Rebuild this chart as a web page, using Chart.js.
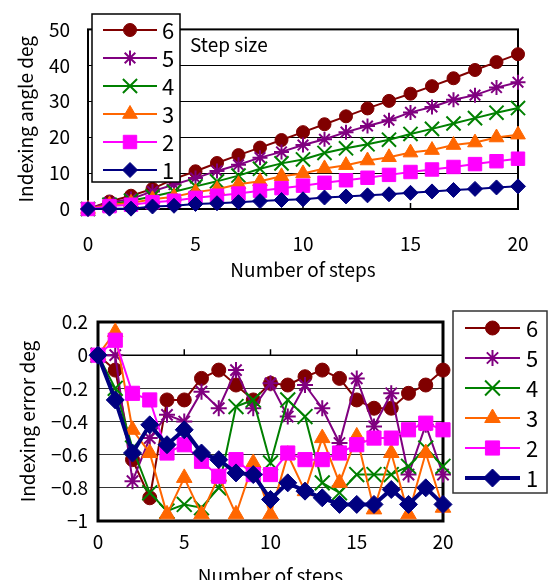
<!DOCTYPE html>
<html>
<head>
<meta charset="utf-8">
<script src="https://cdn.jsdelivr.net/npm/chart.js@4.4.0/dist/chart.umd.min.js"></script>
<style>
  html, body { margin: 0; padding: 0; background: #fff; overflow: hidden; }
  #angleBox { position: absolute; left: 0; top: 0; }
  #errorBox { position: absolute; left: 0; top: 290px; }
</style>
</head>
<body>
<div id="angleBox"><canvas id="angleChart" width="553" height="290"></canvas></div>
<div id="errorBox"><canvas id="errorChart" width="553" height="300"></canvas></div>
<script>
// data
const steps = [0,1,2,3,4,5,6,7,8,9,10,11,12,13,14,15,16,17,18,19,20];
const stepSizes = ['1','2','3','4','5','6'];
const xTicks = [0, 5, 10, 15, 20];
const angleTicks = [0, 10, 20, 30, 40, 50];
const errorTicks = [0.2, 0, -0.2, -0.4, -0.6, -0.8, -1];

// Indexing angle (deg)
const angle1 = [0, 0.1, 0.1, 0.7, 0.9, 1.4, 1.6, 1.9, 2.2, 2.5, 2.7, 3.2, 3.5, 3.8, 4.1, 4.5, 4.9, 5.3, 5.6, 6.0, 6.3];
const angle2 = [0, 0.8, 1.2, 1.9, 2.3, 3.1, 3.7, 4.3, 5.1, 5.8, 6.5, 7.3, 8.0, 8.7, 9.5, 10.3, 11.0, 11.7, 12.5, 13.3, 14.0];
const angle3 = [0, 1.2, 1.7, 2.7, 3.4, 4.7, 5.5, 6.9, 7.7, 9.1, 9.9, 11.3, 12.2, 13.5, 14.4, 15.7, 16.4, 17.8, 18.5, 19.9, 20.7];
const angle4 = [0, 1.2, 2.3, 3.5, 4.8, 6.3, 7.7, 9.3, 11.2, 12.7, 13.8, 15.6, 16.9, 18.0, 19.3, 20.9, 22.3, 23.8, 25.3, 26.8, 28.1];
const angle5 = [0, 1.8, 2.8, 4.9, 6.8, 8.6, 10.6, 12.3, 14.3, 15.9, 17.8, 19.4, 21.4, 23.1, 24.7, 26.9, 28.4, 30.4, 31.7, 33.8, 35.3];
const angle6 = [0, 2.1, 3.7, 5.6, 8.4, 10.5, 12.8, 15.0, 17.1, 19.2, 21.4, 23.6, 25.8, 28.0, 30.1, 32.1, 34.2, 36.4, 38.7, 40.9, 43.1];

// Indexing error (deg)
const error1 = [0, -0.27, -0.59, -0.42, -0.54, -0.45, -0.59, -0.63, -0.71, -0.72, -0.87, -0.77, -0.82, -0.86, -0.9, -0.9, -0.9, -0.81, -0.9, -0.8, -0.9];
const error2 = [0, 0.09, -0.23, -0.27, -0.59, -0.54, -0.64, -0.73, -0.63, -0.72, -0.72, -0.59, -0.63, -0.63, -0.59, -0.54, -0.5, -0.5, -0.45, -0.41, -0.45];
const error3 = [0, 0.14, -0.45, -0.59, -0.96, -0.74, -0.96, -0.73, -0.96, -0.65, -0.96, -0.6, -0.82, -0.5, -0.77, -0.49, -0.93, -0.59, -0.96, -0.59, -0.92];
const error4 = [0, -0.2, -0.56, -0.83, -0.94, -0.9, -0.92, -0.8, -0.31, -0.27, -0.65, -0.27, -0.37, -0.77, -0.83, -0.72, -0.72, -0.72, -0.67, -0.56, -0.67];
const error5 = [0, 0.0, -0.76, -0.5, -0.36, -0.4, -0.22, -0.32, -0.09, -0.32, -0.17, -0.37, -0.18, -0.32, -0.53, -0.14, -0.43, -0.23, -0.72, -0.42, -0.72];
const error6 = [0, -0.09, -0.63, -0.86, -0.27, -0.27, -0.14, -0.09, -0.18, -0.27, -0.17, -0.18, -0.13, -0.09, -0.14, -0.27, -0.32, -0.32, -0.23, -0.18, -0.09];

const angleSeries = [angle1, angle2, angle3, angle4, angle5, angle6];
const errorSeries = [error1, error2, error3, error4, error5, error6];

// look of each step size, 1..6
const styles = [
  { color: '#000080', point: 'rectRot',  r: 7.5, r2: 9 },
  { color: '#FF00FF', point: 'rect',     r: 9.5, r2: 10 },
  { color: '#FF6600', point: 'triangle', r: 8.5, r2: 9 },
  { color: '#008000', point: 'crossRot', r: 10,  r2: 10.5 },
  { color: '#800080', point: 'star',     r: 7.5, r2: 8 },
  { color: '#800000', point: 'circle',   r: 6.5, r2: 7 }
];

const FONT = '"Noto Sans CJK JP", "Noto Sans", sans-serif';
const font = (size) => ({ family: FONT, size: size });

function makeDatasets(series, big) {
  return series.map((vals, i) => {
    const st = styles[i];
    return {
      label: stepSizes[i],
      data: steps.map((s, k) => ({ x: s, y: vals[k] })),
      borderColor: st.color,
      backgroundColor: st.color,
      pointBackgroundColor: st.color,
      pointBorderColor: st.color,
      pointStyle: st.point,
      pointRadius: big ? st.r2 : st.r,
      pointBorderWidth: (st.point === 'star' || st.point === 'crossRot') ? 2 : 1,
      borderWidth: big ? (i === 0 ? 4 : 2) : 2,
      tension: 0,
      clip: false
    };
  });
}

// frame, inner tick marks, custom legend and note
function decorPlugin(cfg) {
  return {
    id: 'decor',
    beforeDatasetsDraw(chart) {
      const { ctx, chartArea: a, scales } = chart;
      ctx.save();
      ctx.strokeStyle = '#000';
      ctx.lineWidth = cfg.frameWidth;
      ctx.strokeRect(a.left, a.top, a.right - a.left, a.bottom - a.top);
      // x axis line at y = 0 with ticks pointing up
      const y0 = scales.y.getPixelForValue(0);
      ctx.lineWidth = 1.5;
      ctx.beginPath();
      ctx.moveTo(a.left, y0); ctx.lineTo(a.right, y0);
      xTicks.forEach(t => {
        const x = scales.x.getPixelForValue(t);
        ctx.moveTo(x, y0); ctx.lineTo(x, y0 - 6);
      });
      ctx.stroke();
      ctx.restore();
    },
    afterDraw(chart) {
      const { ctx } = chart;
      const L = cfg.legend;
      ctx.save();
      ctx.fillStyle = '#fff';
      ctx.fillRect(L.x, L.y, L.w, L.h);
      ctx.strokeStyle = L.border;
      ctx.lineWidth = 1.5;
      ctx.strokeRect(L.x, L.y, L.w, L.h);
      const ds = chart.data.datasets;
      for (let r = 0; r < ds.length; r++) {
        const d = ds[ds.length - 1 - r];
        const y = L.rowY + r * L.rowH;
        ctx.strokeStyle = d.borderColor;
        ctx.fillStyle = d.borderColor;
        ctx.lineWidth = d.borderWidth;
        ctx.beginPath();
        ctx.moveTo(L.lineX1, y); ctx.lineTo(L.lineX2, y);
        ctx.stroke();
        ctx.lineWidth = d.pointBorderWidth;
        Chart.helpers.drawPoint(ctx, {
          pointStyle: d.pointStyle, radius: d.pointRadius,
          borderWidth: d.pointBorderWidth, rotation: 0
        }, (L.lineX1 + L.lineX2) / 2, y);
        ctx.fillStyle = '#000';
        ctx.font = '22px ' + FONT;
        ctx.textBaseline = 'middle';
        ctx.textAlign = 'left';
        ctx.fillText(d.label, L.textX, y + 1);
      }
      if (cfg.note) {
        ctx.fillStyle = '#000';
        ctx.font = '19px ' + FONT;
        ctx.textBaseline = 'middle';
        ctx.fillText(cfg.note.text, cfg.note.x, cfg.note.y);
      }
      ctx.restore();
    }
  };
}

function minusLabel(v) {
  const n = Math.round(v * 10) / 10;
  if (n === 0) return '0';
  return n < 0 ? '\u2212' + Math.abs(n) : String(n);
}

// top chart: indexing angle
new Chart(document.getElementById('angleChart'), {
  type: 'line',
  data: { datasets: makeDatasets(angleSeries, false) },
  options: {
    responsive: false,
    animation: false,
    layout: { padding: { left: 0, right: 35, top: 19, bottom: 0 } },
    plugins: { legend: { display: false }, tooltip: { enabled: false } },
    scales: {
      x: {
        type: 'linear', min: 0, max: 20,
        afterBuildTicks: s => { s.ticks = xTicks.map(v => ({ value: v })); },
        afterFit: s => { s.height = 81; },
        ticks: { color: '#000', font: font(19), padding: 23, maxRotation: 0 },
        grid: { display: false, drawTicks: false },
        border: { display: false },
        title: { display: true, text: 'Number of steps', color: '#000', font: font(19), padding: { top: 0, bottom: 9 } }
      },
      y: {
        min: 0, max: 50,
        afterBuildTicks: s => { s.ticks = angleTicks.map(v => ({ value: v })); },
        afterFit: s => { s.width = 88; },
        ticks: { color: '#000', font: font(19), padding: 18 },
        grid: { color: '#000', lineWidth: 1, drawTicks: false },
        border: { display: false },
        title: { display: true, text: 'Indexing angle deg', color: '#000', font: font(19), padding: { top: 14, bottom: 0 } }
      }
    }
  },
  plugins: [decorPlugin({
    frameWidth: 2,
    legend: { x: 92, y: 14, w: 88, h: 168, border: '#000', rowY: 30, rowH: 28, lineX1: 103, lineX2: 157, textX: 162 },
    note: { text: 'Step size', x: 190, y: 45 }
  })]
});

// bottom chart: indexing error
new Chart(document.getElementById('errorChart'), {
  type: 'line',
  data: { datasets: makeDatasets(errorSeries, true) },
  options: {
    responsive: false,
    animation: false,
    layout: { padding: { left: 0, right: 110, top: 32, bottom: 0 } },
    plugins: { legend: { display: false }, tooltip: { enabled: false } },
    scales: {
      x: {
        type: 'linear', min: 0, max: 20,
        afterBuildTicks: s => { s.ticks = xTicks.map(v => ({ value: v })); },
        afterFit: s => { s.height = 69; },
        ticks: { color: '#000', font: font(19), padding: 9, maxRotation: 0 },
        grid: { display: false, drawTicks: false },
        border: { display: false },
        title: { display: true, text: 'Number of steps', color: '#000', font: font(19), padding: { top: 0, bottom: 3 } }
      },
      y: {
        min: -1, max: 0.2,
        afterBuildTicks: s => { s.ticks = errorTicks.map(v => ({ value: v })); },
        afterFit: s => { s.width = 98; },
        ticks: { color: '#000', font: font(19), padding: 10, callback: v => minusLabel(v) },
        grid: { color: '#333', lineWidth: 1, drawTicks: false },
        border: { display: false },
        title: { display: true, text: 'Indexing error deg', color: '#000', font: font(19), padding: { top: 16, bottom: 0 } }
      }
    }
  },
  plugins: [decorPlugin({
    frameWidth: 3,
    legend: { x: 453, y: 21, w: 94, h: 182, border: '#333', rowY: 38, rowH: 30, lineX1: 465, lineX2: 520, textX: 526 }
  })]
});
</script>
</body>
</html>
